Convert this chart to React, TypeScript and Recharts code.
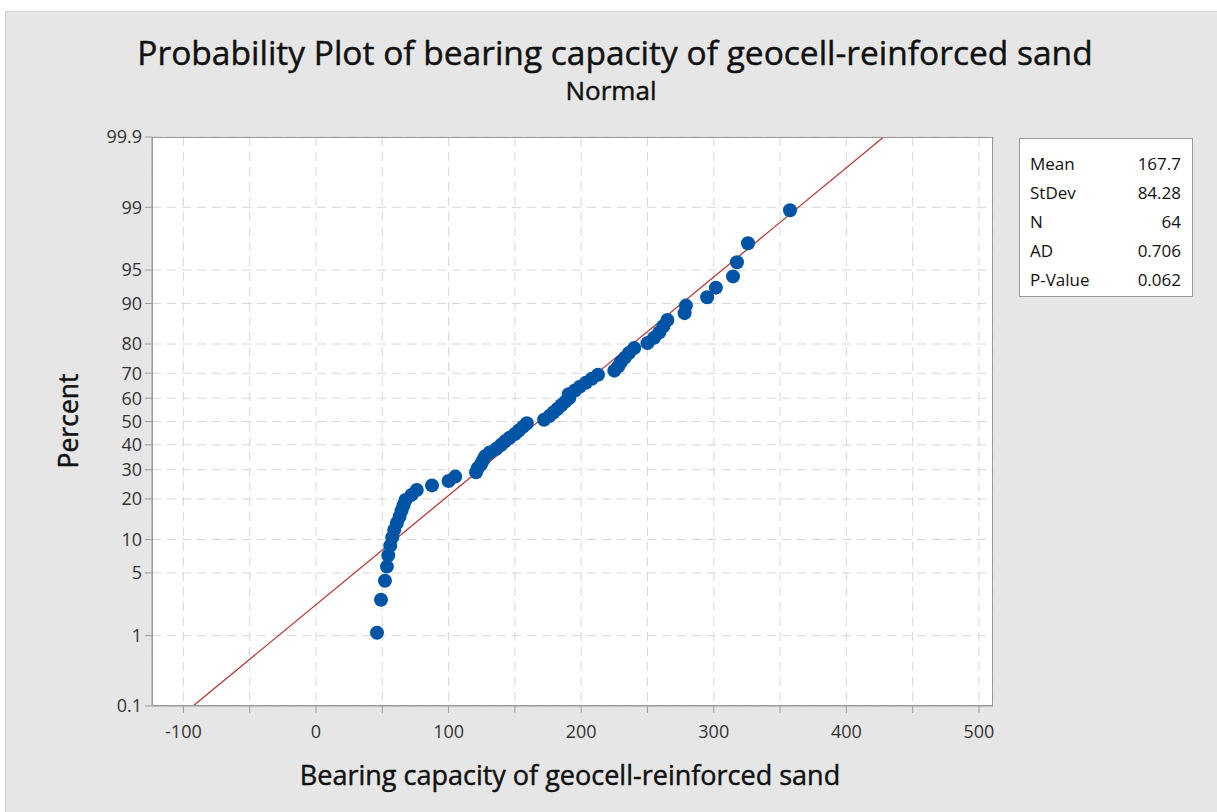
import React from 'react';
import { CartesianGrid, Scatter, ScatterChart, XAxis, YAxis } from 'recharts';

// bearing capacity values, sorted
const bearingCapacity = [
  46, 49, 52, 53.5, 54.5, 56, 57.5, 59, 61, 63, 64.5, 66, 67.5, 72, 76, 87.5,
  100, 105, 120.7, 122, 124.4, 126, 127.5, 131, 136, 139.5, 142.5, 146, 150, 153, 156, 159,
  172, 176, 179, 182, 185, 188, 191, 190.6, 195.3, 199, 203.6, 208, 212.7, 225,
  228, 230, 233, 236, 240, 250, 255, 259, 262, 265, 278, 279, 295, 301.6, 314.5, 317.5,
  325.8, 357.5,
];

// plotted percent for each point
const percentRank = [
  1.09, 2.64, 4.19, 5.75, 7.3, 8.85, 10.4, 11.96, 13.51, 15.06, 16.61, 18.17, 19.72, 21.27, 22.83, 24.38,
  25.93, 27.48, 29.04, 30.59, 32.14, 33.7, 35.25, 36.8, 38.35, 39.91, 41.46, 43.01, 44.57, 46.12, 47.67, 49.22,
  50.78, 52.33, 53.88, 55.43, 56.99, 58.54, 60.09, 61.65, 63.2, 64.75, 66.3, 67.86, 69.41, 70.96,
  72.52, 74.07, 75.62, 77.17, 78.73, 80.28, 81.83, 83.39, 84.94, 86.49, 88.04, 89.6, 91.15, 92.7, 94.25, 95.81,
  97.36, 98.91,
];

const percentTicks = [0.1, 1, 5, 10, 20, 30, 40, 50, 60, 70, 80, 90, 95, 99, 99.9];
const xTicks = [-100, -50, 0, 50, 100, 150, 200, 250, 300, 350, 400, 450, 500];

const statLabels = ['Mean', 'StDev', 'N', 'AD', 'P-Value'];
const statValues = ['167.7', '84.28', '64', '0.706', '0.062'];
const fitMean = 167.7;
const fitStDev = 84.28;

// inverse normal cdf (Acklam) -> probability axis
function probit(p: number): number {
  const a = [-39.69683028665376, 220.9460984245205, -275.9285104469687, 138.357751867269, -30.66479806614716, 2.506628277459239];
  const b = [-54.47609879822406, 161.5858368580409, -155.6989798598866, 66.80131188771972, -13.28068155288572];
  const c = [-0.007784894002430293, -0.3223964580411365, -2.400758277161838, -2.549671348283470, 4.374664141464968, 2.938163982698783];
  const d = [0.007784695709041462, 0.3224671290700398, 2.445134137142996, 3.754408661907416];
  const plow = 0.02425;
  if (p < plow) {
    const q = Math.sqrt(-2 * Math.log(p));
    return (((((c[0] * q + c[1]) * q + c[2]) * q + c[3]) * q + c[4]) * q + c[5]) /
      ((((d[0] * q + d[1]) * q + d[2]) * q + d[3]) * q + 1);
  }
  if (p > 1 - plow) {
    const q = Math.sqrt(-2 * Math.log(1 - p));
    return -(((((c[0] * q + c[1]) * q + c[2]) * q + c[3]) * q + c[4]) * q + c[5]) /
      ((((d[0] * q + d[1]) * q + d[2]) * q + d[3]) * q + 1);
  }
  const q = p - 0.5;
  const r = q * q;
  return (((((a[0] * r + a[1]) * r + a[2]) * r + a[3]) * r + a[4]) * r + a[5]) * q /
    (((((b[0] * r + b[1]) * r + b[2]) * r + b[3]) * r + b[4]) * r + 1);
}

const zMin = probit(0.001);
const zMax = probit(0.999);
const yTickValues = percentTicks.map((p) => probit(p / 100));

const points = bearingCapacity.map((x, i) => ({ x, z: probit(percentRank[i] / 100) }));
const fitLine = [
  { x: fitMean + zMin * fitStDev, z: zMin },
  { x: fitMean + zMax * fitStDev, z: zMax },
];

const font = '"Open Sans", "Noto Sans", sans-serif';
const heading = { color: '#111', whiteSpace: 'nowrap' as const, lineHeight: 1, WebkitTextStroke: '0.45px #111' };

const App = () => {
  return (
    <div style={{ position: 'absolute', left: 0, top: 0, width: 1217, height: 812, background: '#fff', fontFamily: font }}>
      <div style={{ position: 'absolute', left: 5, top: 11, width: 1212, height: 801, background: '#e6e6e6', borderTop: '1px solid #cfcfcf', borderLeft: '1px solid #cfcfcf' }} />
      <div style={{ ...heading, position: 'absolute', left: 615, top: 36, transform: 'translateX(-50%)', fontSize: 33.5 }}>
        Probability Plot of bearing capacity of geocell-reinforced sand
      </div>
      <div style={{ ...heading, position: 'absolute', left: 611, top: 77, transform: 'translateX(-50%)', fontSize: 26 }}>
        Normal
      </div>
      <ScatterChart
        width={1217}
        height={812}
        margin={{ top: 137, right: 224, bottom: 46, left: 92 }}
        style={{ position: 'absolute', left: 0, top: 0 }}
      >
        <CartesianGrid stroke="#d6d6d6" strokeDasharray="9 6" fill="#fff" />
        <XAxis
          type="number"
          dataKey="x"
          domain={[-123.7, 510.6]}
          ticks={xTicks}
          interval={0}
          allowDataOverflow
          height={60}
          tickSize={7}
          tickMargin={12}
          tickFormatter={(v: number) => (v % 100 === 0 ? String(v) : '')}
          tick={{ fill: '#333', fontSize: 18, fontFamily: font }}
          stroke="#9a9a9a"
        />
        <YAxis
          type="number"
          dataKey="z"
          domain={[zMin, zMax]}
          ticks={yTickValues}
          interval={0}
          allowDataOverflow
          width={60}
          tickSize={7}
          tickMargin={3}
          tickFormatter={(v: number) => {
            const i = yTickValues.findIndex((t) => Math.abs(t - v) < 1e-6);
            return i >= 0 ? String(percentTicks[i]) : '';
          }}
          tick={{ fill: '#333', fontSize: 18, fontFamily: font }}
          stroke="#9a9a9a"
        />
        <Scatter
          data={fitLine}
          line={{ stroke: '#b23a3a', strokeWidth: 1.3 }}
          shape={() => <g />}
          isAnimationActive={false}
        />
        <Scatter
          data={points}
          fill="#0054a6"
          shape={(props: any) => <circle cx={props.cx} cy={props.cy} r={7} fill="#0054a6" />}
          isAnimationActive={false}
        />
      </ScatterChart>
      <div style={{ position: 'absolute', left: 152, top: 137, width: 841, height: 569, border: '1px solid #9a9a9a', boxSizing: 'border-box', pointerEvents: 'none' }} />
      <div style={{ ...heading, position: 'absolute', left: 68, top: 421, transform: 'translate(-50%, -50%) rotate(-90deg)', fontSize: 26.5 }}>
        Percent
      </div>
      <div style={{ ...heading, position: 'absolute', left: 570, top: 761, transform: 'translateX(-50%)', fontSize: 27 }}>
        Bearing capacity of geocell-reinforced sand
      </div>
      <div style={{ position: 'absolute', left: 1019, top: 138, width: 174, height: 159, background: '#fff', border: '1px solid #9a9a9a', boxSizing: 'border-box', paddingTop: 10, fontSize: 17, color: '#111' }}>
        {statLabels.map((label, i) => (
          <div key={label} style={{ display: 'flex', justifyContent: 'space-between', height: 29, lineHeight: '29px', paddingLeft: 10, paddingRight: 11 }}>
            <span>{label}</span>
            <span>{statValues[i]}</span>
          </div>
        ))}
      </div>
    </div>
  );
};

export default App;
